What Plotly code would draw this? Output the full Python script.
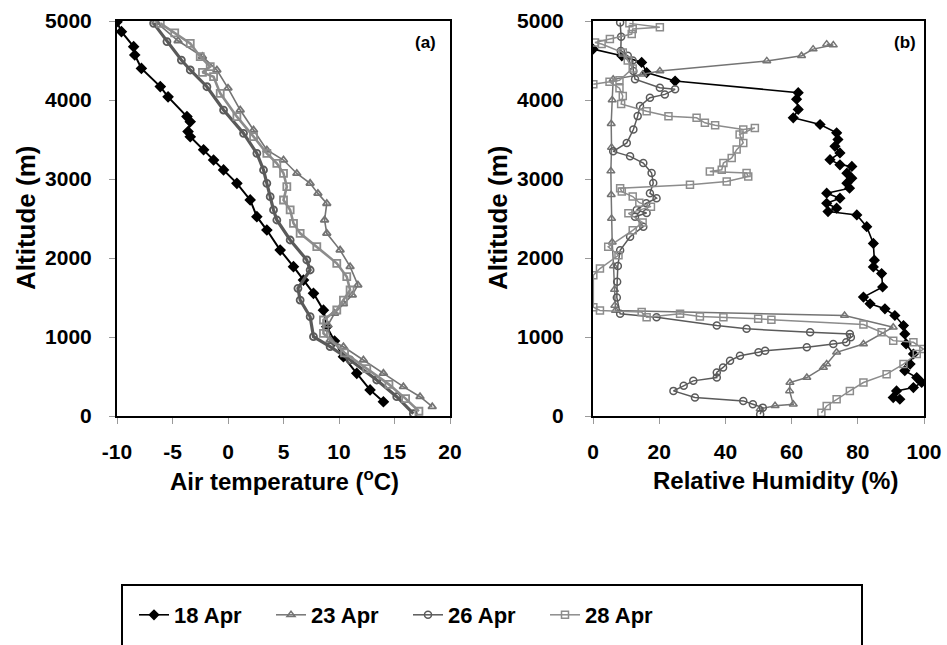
import plotly.graph_objects as go

# ---------------- data ----------------
series_names = ["18 Apr", "23 Apr", "26 Apr", "28 Apr"]

# Panel (a): air temperature (deg C) vs altitude (m)
temp_18 = [-10, -9.6, -8.5, -8.4, -7.8, -6.1, -5.4, -3.7, -3.4, -3.6, -3.4, -2.2, -1.3, -0.4, 0.8, 2.0,
           2.6, 3.5, 4.7, 5.9, 6.8, 7.7, 8.6, 8.9, 9.6, 10.4, 11.6, 12.8, 14.0]
alt_t_18 = [4990, 4865, 4675, 4570, 4400, 4170, 4040, 3790, 3725, 3600, 3535, 3370, 3240, 3115, 2945, 2735,
            2523, 2354, 2100, 1890, 1720, 1553, 1340, 1130, 950, 750, 540, 330, 180]

temp_23 = [-6.5, -4.5, -2.3, -1.0, 0.0, 1.1, 2.3, 3.5, 5.0, 6.2, 7.4, 8.1, 8.9, 8.7, 8.9, 10.1, 11.0, 11.7,
           11.2, 10.4, 9.6, 9.0, 9.2, 10.4, 12.2, 14.0, 15.8, 17.3, 18.4]
alt_t_23 = [4990, 4750, 4550, 4380, 4150, 3873, 3620, 3367, 3240, 3070, 2945, 2818, 2690, 2480, 2312, 2100,
            1890, 1658, 1530, 1420, 1300, 1150, 962, 877, 709, 540, 371, 244, 118]

temp_26 = [-6.7, -5.5, -4.2, -3.4, -1.9, -0.4, 1.4, 2.6, 3.2, 3.5, 3.8, 4.1, 4.4, 5.6, 7.1, 7.4, 6.3, 6.5,
           7.4, 7.7, 9.2, 11.0, 13.4, 15.2, 16.7]
alt_t_26 = [4970, 4740, 4506, 4380, 4168, 3873, 3578, 3325, 3114, 2945, 2776, 2608, 2481, 2228, 1975, 1848,
            1616, 1468, 1257, 1004, 877, 709, 456, 244, 30]

temp_28 = [-6.1, -4.8, -3.4, -2.5, -1.6, -2.3, -1.3, -0.7, 0.8, 2.3, 3.5, 4.4, 5.0, 5.3, 5.0, 5.6, 5.9, 6.5,
           8.0, 9.8, 10.7, 11.0, 10.4, 9.8, 8.6, 8.6, 10.5, 12.5, 14.5, 16.0, 17.2]
alt_t_28 = [4970, 4850, 4717, 4548, 4422, 4350, 4295, 4084, 3789, 3536, 3325, 3198, 3072, 2903, 2734, 2608,
            2439, 2312, 2143, 1933, 1763, 1595, 1468, 1342, 1215, 1046, 800, 600, 400, 220, 60]

# Panel (b): relative humidity (%) vs altitude (m)
rh_18 = [0, 8.7, 14.7, 16.2, 24.8, 62.0, 61.5, 62.0, 60.5, 68.6, 73.6, 74.0, 73.1, 74.6, 71.6, 74.6, 78.2,
         76.7, 78.2, 76.7, 77.5, 70.6, 74.6, 70.6, 73.6, 71.0, 79.7, 82.7, 84.7, 85.0, 84.7, 87.2, 87.5,
         81.7, 83.7, 88.2, 91.2, 93.8, 94.2, 94.6, 96.8, 95.8, 94.2, 97.8, 99.3, 96.8, 91.7, 90.7, 92.7]
alt_h_18 = [4644, 4559, 4475, 4347, 4240, 4093, 4010, 3880, 3775, 3690, 3584, 3500, 3414, 3330, 3244, 3180,
            3159, 3074, 3011, 2947, 2884, 2820, 2757, 2693, 2630, 2588, 2545, 2396, 2184, 1972, 1887, 1803,
            1633, 1505, 1421, 1357, 1272, 1145, 1039, 912, 785, 658, 573, 487, 424, 360, 318, 233, 212]

rh_23 = [70.6, 72.6, 66.5, 63.0, 52.5, 20.2, 15.0, 6.1, 5.8, 5.5, 5.6, 5.4, 5.5, 5.6, 5.8, 6.2, 6.5, 6.6,
         6.8, 76.0, 90.7, 81.7, 73.6, 70.6, 69.6, 64.6, 59.5, 59.4, 60.5, 55.0, 50.5]
alt_h_23 = [4707, 4695, 4644, 4560, 4495, 4368, 4325, 4262, 4000, 3700, 3400, 3100, 2800, 2500, 2200, 1900,
            1600, 1400, 1336, 1272, 1124, 912, 806, 657, 615, 487, 424, 318, 148, 130, 90]

rh_26 = [8.2, 8.5, 8.4, 10.5, 12.0, 12.2, 12.7, 20.2, 24.8, 21.7, 17.2, 14.2, 13.5, 12.2, 10.2, 6.1, 11.2,
         15.2, 17.7, 18.2, 17.2, 19.2, 16.1, 13.2, 16.2, 12.7, 15.2, 11.2, 8.2, 7.5, 7.3, 7.2, 8.2, 19.2,
         37.4, 46.4, 65.6, 77.6, 77.9, 76.5, 72.6, 64.6, 52.0, 50.0, 44.4, 41.4, 39.3, 37.4, 37.4, 30.3,
         27.4, 24.3, 30.8, 45.4, 48.3, 51.3, 50.5]
alt_h_26 = [4980, 4800, 4620, 4560, 4500, 4368, 4262, 4156, 4135, 4071, 4029, 3923, 3796, 3626, 3457, 3350,
            3287, 3202, 3075, 2948, 2820, 2757, 2693, 2608, 2570, 2523, 2396, 2269, 2099, 1900, 1700, 1500,
            1294, 1251, 1145, 1103, 1060, 1039, 997, 933, 912, 870, 827, 806, 763, 700, 615, 551, 487, 445,
            382, 318, 233, 191, 148, 106, 21]

rh_28 = [11.0, 20.2, 12.0, 11.7, 5.1, 0.6, 2.6, 9.0, 10.5, 12.0, 8.0, 0.1, 5.0, 8.0, 9.0, 8.5, 16.2, 22.8,
         31.3, 33.8, 36.9, 45.4, 48.9, 44.3, 45.4, 43.4, 41.9, 39.4, 38.9, 35.3, 46.4, 46.9, 40.4, 29.3,
         8.2, 8.7, 12.0, 14.0, 17.5, 10.7, 15.0, 12.0, 4.6, 7.7, 2.1, 0.1, 0.1, 2.1, 14.7, 16.2, 26.3,
         32.3, 39.4, 49.9, 53.9, 81.7, 87.2, 90.7, 96.8, 99.8, 97.8, 93.8, 88.7, 81.7, 77.6, 73.6, 70.6, 69.0]
alt_h_28 = [4970, 4920, 4900, 4835, 4771, 4729, 4708, 4600, 4500, 4400, 4250, 4198, 4230, 4150, 4050, 3950,
            3858, 3795, 3775, 3711, 3680, 3626, 3647, 3563, 3457, 3372, 3266, 3202, 3117, 3096, 3075, 3032,
            2968, 2926, 2884, 2841, 2778, 2700, 2650, 2565, 2450, 2350, 2141, 2035, 1866, 1781, 1378, 1336,
            1315, 1251, 1294, 1261, 1251, 1230, 1218, 1158, 1060, 954, 933, 848, 785, 657, 530, 424, 318,
            212, 127, 42]

temp_ticks = [-10, -5, 0, 5, 10, 15, 20]
temp_tick_text = ["-10", "-5", "0", "5", "10", "15", "20"]
rh_ticks = [0, 20, 40, 60, 80, 100]
alt_ticks = [0, 1000, 2000, 3000, 4000, 5000]

# ---------------- styling ----------------
FONT = "Liberation Sans, Arial, sans-serif"
W, H = 947, 645
styles = {
    "18 Apr": dict(color="#000000", symbol="diamond", size=7, lw_a=2.0, lw_b=1.6),
    "23 Apr": dict(color="#747474", symbol="triangle-up-open", size=7, lw_a=1.6, lw_b=1.5),
    "26 Apr": dict(color="#5a5a5a", symbol="circle-open", size=7, lw_a=3.2, lw_b=1.5),
    "28 Apr": dict(color="#8c8c8c", symbol="square-open", size=7, lw_a=2.6, lw_b=1.5),
}

temps = [temp_18, temp_23, temp_26, temp_28]
alts_t = [alt_t_18, alt_t_23, alt_t_26, alt_t_28]
rhs = [rh_18, rh_23, rh_26, rh_28]
alts_h = [alt_h_18, alt_h_23, alt_h_26, alt_h_28]

fig = go.Figure()
for name, xs, ys in zip(series_names, temps, alts_t):
    s = styles[name]
    fig.add_trace(go.Scatter(
        x=xs, y=ys, mode="lines+markers", name=name, xaxis="x", yaxis="y",
        line=dict(color=s["color"], width=s["lw_a"]),
        marker=dict(symbol=s["symbol"], size=s["size"], color=s["color"],
                    line=dict(color=s["color"], width=1.8)),
        showlegend=False, legendgroup=name))
for name, xs, ys in zip(series_names, rhs, alts_h):
    s = styles[name]
    fig.add_trace(go.Scatter(
        x=xs, y=ys, mode="lines+markers", name=name, xaxis="x2", yaxis="y2",
        line=dict(color=s["color"], width=s["lw_b"]),
        marker=dict(symbol=s["symbol"], size=s["size"], color=s["color"],
                    line=dict(color=s["color"], width=1.5)),
        showlegend=True, legendgroup=name))

def px_x(p):
    return p / W

def px_y(p):
    return (H - p) / H

tickfont = dict(family=FONT, size=21, color="black", weight="bold")
common = dict(showline=True, linecolor="black", linewidth=2, mirror=True, ticks="outside",
              ticklen=6, tickwidth=1, tickcolor="#9a9a9a", showgrid=False, zeroline=False,
              tickfont=tickfont, fixedrange=True, automargin=False)

fig.update_layout(
    width=W, height=H, autosize=False,
    margin=dict(l=0, r=0, t=0, b=0, pad=0, autoexpand=False),
    paper_bgcolor="white", plot_bgcolor="white",
    xaxis=dict(domain=[px_x(117), px_x(450)], range=[-10, 20], tickmode="array",
               tickvals=temp_ticks, ticktext=temp_tick_text, anchor="y",
               ticklabelstandoff=10, **common),
    yaxis=dict(domain=[px_y(416), px_y(21)], range=[0, 5000], tickmode="array",
               tickvals=alt_ticks, anchor="x", ticklabelstandoff=13, **common),
    xaxis2=dict(domain=[px_x(593), px_x(924)], range=[0, 100], tickmode="array",
                tickvals=rh_ticks, anchor="y2", ticklabelstandoff=10, **common),
    yaxis2=dict(domain=[px_y(416), px_y(21)], range=[0, 5000], tickmode="array",
                tickvals=alt_ticks, anchor="x2", ticklabelstandoff=17, **common),
    showlegend=True,
    legend=dict(orientation="h", x=px_x(134), xanchor="left", y=px_y(615), yanchor="middle",
                font=dict(family=FONT, size=22, color="black", weight="bold"),
                bgcolor="rgba(0,0,0,0)", borderwidth=0,
                entrywidth=92, entrywidthmode="pixels", itemwidth=30, traceorder="normal"),
)

ann = [
    dict(text="Altitude (m)", x=px_x(26), y=px_y(218), textangle=-90, size=26),
    dict(text="Altitude (m)", x=px_x(498), y=px_y(218), textangle=-90, size=26),
    dict(text="Air temperature (<sup>o</sup>C)", x=px_x(284), y=px_y(480), textangle=0, size=24),
    dict(text="Relative Humidity (%)", x=px_x(775), y=px_y(480), textangle=0, size=24),
]
for a in ann:
    sz = a.pop("size")
    fig.add_annotation(xref="paper", yref="paper", showarrow=False, xanchor="center",
                       yanchor="middle", font=dict(family=FONT, size=sz, color="black", weight="bold"),
                       **a)
for lbl, xp in [("(a)", 425), ("(b)", 905)]:
    fig.add_annotation(text=lbl, xref="paper", yref="paper", x=px_x(xp), y=px_y(43),
                       showarrow=False, xanchor="center", yanchor="middle",
                       font=dict(family=FONT, size=17, color="black", weight="bold"))

# legend frame (bottom edge falls outside the picture, as in the reference)
fig.add_shape(type="rect", xref="paper", yref="paper", x0=px_x(122), x1=px_x(862),
              y0=-0.1, y1=px_y(585), line=dict(color="black", width=2), layer="above")

fig.write_html("out.html")
